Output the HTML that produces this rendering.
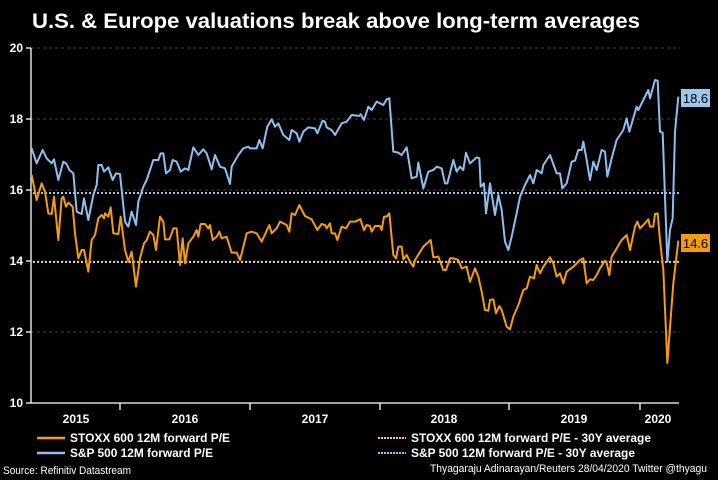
<!DOCTYPE html>
<html><head><meta charset="utf-8"><style>
html,body{margin:0;padding:0;background:#000;}
svg{display:block;}
text{font-family:"Liberation Sans",sans-serif;}
</style></head><body>
<svg width="718" height="480" viewBox="0 0 718 480" xmlns="http://www.w3.org/2000/svg">
<rect width="718" height="480" fill="#000"/>
<text x="32" y="28" fill="#fff" font-size="21" font-weight="bold" textLength="608" lengthAdjust="spacingAndGlyphs">U.S. &amp; Europe valuations break above long-term averages</text>
<g stroke="#444" stroke-width="1" stroke-dasharray="3,3">
<line x1="31" y1="48" x2="680" y2="48"/>
<line x1="31" y1="119" x2="680" y2="119"/>
<line x1="31" y1="190" x2="680" y2="190"/>
<line x1="31" y1="261" x2="680" y2="261"/>
<line x1="31" y1="332" x2="680" y2="332"/>
</g>
<g stroke="#fff" stroke-width="1.3">
<line x1="31" y1="48" x2="31" y2="403"/>
<line x1="31" y1="403" x2="679" y2="403"/>
<line x1="26" y1="48" x2="31" y2="48"/><line x1="26" y1="119" x2="31" y2="119"/>
<line x1="26" y1="190" x2="31" y2="190"/><line x1="26" y1="261" x2="31" y2="261"/>
<line x1="26" y1="332" x2="31" y2="332"/><line x1="26" y1="403" x2="31" y2="403"/>
<line x1="120" y1="403" x2="120" y2="410"/><line x1="250" y1="403" x2="250" y2="410"/>
<line x1="380" y1="403" x2="380" y2="410"/><line x1="509" y1="403" x2="509" y2="410"/>
<line x1="640" y1="403" x2="640" y2="410"/>
</g>
<g fill="#fff" font-size="12" font-weight="bold" text-anchor="end">
<text x="23" y="52">20</text><text x="23" y="123">18</text><text x="23" y="194">16</text>
<text x="23" y="265">14</text><text x="23" y="336">12</text><text x="23" y="407">10</text>
</g>
<g fill="#fff" font-size="12" font-weight="bold" text-anchor="middle">
<text x="76" y="423">2015</text><text x="185" y="423">2016</text><text x="315" y="423">2017</text>
<text x="444" y="423">2018</text><text x="574" y="423">2019</text><text x="658" y="423">2020</text>
</g>
<line x1="33" y1="193" x2="680" y2="193" stroke="#9cc7ee" stroke-width="2" stroke-dasharray="2,2"/>
<line x1="33" y1="262" x2="680" y2="262" stroke="#e8c9a0" stroke-width="2" stroke-dasharray="2,2"/>
<g fill="none" stroke-width="2" stroke-linejoin="round">
<g transform="translate(30,70) scale(0.33333)">
<polyline vector-effect="non-scaling-stroke" stroke="#f39c12" stroke-width="2" points="5,315 20,390 35,340 45,365 55,430 65,432 72,380 85,510 95,385 100,380 108,410 115,398 128,410 135,490 145,565 155,540 162,540 175,605 185,510 195,495 205,445 215,435 222,445 225,430 235,440 242,412 250,490 265,492 272,440 285,540 295,575 305,545 318,650 330,565 342,520 350,510 360,485 370,495 378,540 390,440 400,455 405,508 418,508 425,490 430,475 440,475 450,585 458,505 465,580 475,520 490,500 500,480 505,500 512,462 525,462 535,475 540,465 548,510 560,500 568,485 575,505 590,500 605,548 620,548 630,570 650,490 665,485 680,490 695,515 718,465 725,490 740,475 750,455 770,465 778,485 785,430 795,435 808,405 825,438 845,448 862,480 875,462 885,465 890,475 900,460 905,490 915,490 922,510 935,470 948,475 960,455 975,455 990,448"/>
<polyline vector-effect="non-scaling-stroke" stroke="#8fbfee" stroke-width="2" points="5,235 20,280 38,240 50,265 65,280 72,268 85,330 100,275 110,282 118,300 130,310 140,425 155,432 162,385 175,450 190,375 200,345 205,285 215,285 222,305 235,292 248,330 258,310 270,312 285,455 295,470 305,425 318,465 325,395 340,350 350,330 370,270 385,270 392,250 400,250 408,310 420,300 428,270 440,275 452,305 465,295 475,300 490,232 505,255 520,238 530,250 545,298 555,255 570,290 585,295 600,342 605,290 625,255 640,235 655,230 660,235 680,235 688,210 698,235 712,170 725,148 735,170 745,160 760,195 778,210 785,180 800,190 808,215 820,185 835,172 855,175 862,190 878,152 885,155 890,172 905,180 915,195 935,160 950,155 965,135 990,138"/>
</g>
<g transform="translate(360,70) scale(0.33333)">
<polyline vector-effect="non-scaling-stroke" stroke="#f39c12" stroke-width="2" points="0,445 12,480 20,465 30,468 35,485 45,468 60,468 65,480 72,440 80,440 88,430 100,555 108,565 115,530 125,530 130,568 140,555 150,575 160,590 165,570 190,530 212,510 220,562 235,560 250,600 258,600 270,565 280,565 295,570 305,595 320,590 330,635 345,595 355,620 365,665 375,720 385,722 390,690 400,688 408,730 418,708 425,720 440,770 450,778 460,740 475,705 490,660 500,655 510,620 522,625 530,585 540,610 550,590 570,562 580,580 590,620 600,610 610,640 620,605 640,590 660,570 670,565 680,640 690,628 700,630 710,615 720,595 735,572 740,578 748,615 755,560 770,535 785,510 800,495 810,540 825,470 832,455 840,475 850,465 865,448 870,470 880,470 885,432 893,430 900,510 910,600 922,879 940,640 955,512"/>
<polyline vector-effect="non-scaling-stroke" stroke="#8fbfee" stroke-width="2" points="0,130 12,150 25,110 35,120 50,95 70,105 80,88 88,85 100,245 115,248 125,255 140,232 155,325 170,320 175,278 190,355 205,305 220,300 230,290 245,295 255,340 262,340 275,290 280,270 290,305 300,290 310,300 318,248 330,280 350,262 358,265 362,350 372,340 378,430 390,340 405,435 415,375 425,420 435,515 445,540 455,500 470,430 480,380 495,345 510,315 520,340 530,300 545,310 550,285 570,255 590,310 600,310 607,355 620,340 635,275 645,272 655,240 665,240 670,215 680,270 690,330 700,275 710,300 725,240 735,245 742,320 755,265 770,210 790,180 800,145 808,185 830,110 835,120 850,90 865,60 870,85 885,30 893,32 900,185 908,188 922,575 930,480 938,445 945,185 955,80"/>
</g>
</g>
<rect x="681" y="89" width="29" height="18" fill="#9cc7ee"/>
<text x="695.5" y="103" fill="#000" font-size="13" text-anchor="middle">18.6</text>
<rect x="681" y="234" width="29" height="18" fill="#f39c12"/>
<text x="695.5" y="248" fill="#000" font-size="13" text-anchor="middle">14.6</text>
<line x1="37" y1="438" x2="65" y2="438" stroke="#f39c12" stroke-width="2.5"/>
<line x1="37" y1="453" x2="65" y2="453" stroke="#8fbfee" stroke-width="2.5"/>
<line x1="378" y1="438" x2="406" y2="438" stroke="#e8c9a0" stroke-width="2" stroke-dasharray="2,1"/>
<line x1="378" y1="453" x2="406" y2="453" stroke="#9cc7ee" stroke-width="2" stroke-dasharray="2,1"/>
<g fill="#fff" font-size="12" font-weight="bold">
<text x="70" y="442" textLength="160" lengthAdjust="spacingAndGlyphs">STOXX 600 12M forward P/E</text>
<text x="70" y="457" textLength="143" lengthAdjust="spacingAndGlyphs">S&amp;P 500 12M forward P/E</text>
<text x="411" y="442" textLength="240" lengthAdjust="spacingAndGlyphs">STOXX 600 12M forward P/E - 30Y average</text>
<text x="411" y="457" textLength="224" lengthAdjust="spacingAndGlyphs">S&amp;P 500 12M forward P/E - 30Y average</text>
</g>
<g fill="#fff" font-size="11">
<text x="3" y="474" textLength="128" lengthAdjust="spacingAndGlyphs">Source: Refinitiv Datastream</text>
<text x="430" y="472" textLength="277" lengthAdjust="spacingAndGlyphs">Thyagaraju Adinarayan/Reuters 28/04/2020 Twitter @thyagu</text>
</g>
</svg>
</body></html>
